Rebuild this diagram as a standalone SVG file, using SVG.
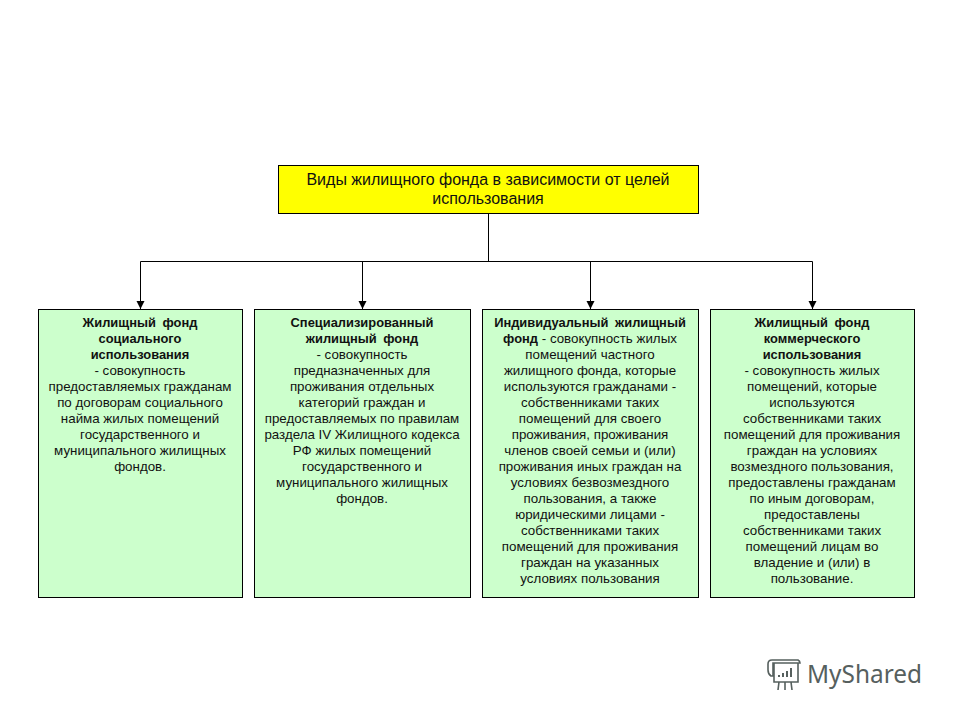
<svg xmlns="http://www.w3.org/2000/svg" width="960" height="720" viewBox="0 0 960 720">
<defs><marker id="a" markerUnits="userSpaceOnUse" markerWidth="8" markerHeight="9" refX="8" refY="4" orient="auto"><path d="M0 0L8 4L0 8Z" fill="#000"/></marker></defs>
<style>
.b{stroke:#000;stroke-width:1}
.g{fill:#ccffcc}
text{font-family:"Liberation Sans",Arial,sans-serif;font-size:13.33px;text-anchor:middle;fill:#111}
.h{font-weight:bold;font-size:12.9px;word-spacing:3px}
.t{font-size:16px}
.c{fill:none;stroke:#000;stroke-width:1}
.l{fill:none;stroke:#56605e;stroke-width:1.600}
</style>
<rect width="960" height="720" fill="#fff"/>
<g id="connectors">
<path class="c" d="M488.500 214V261.500M140.500 261.500H812.500"/>
<path class="c" d="M140.500 261.500V309" marker-end="url(#a)"/>
<path class="c" d="M362.500 261.500V309" marker-end="url(#a)"/>
<path class="c" d="M590.500 261.500V309" marker-end="url(#a)"/>
<path class="c" d="M812.500 261.500V309" marker-end="url(#a)"/>
</g>
<g id="title"><rect class="b" x="278.500" y="165.500" width="420" height="48" fill="#ffff00"/>
<text class="t" x="488" y="185">Виды жилищного фонда в зависимости от целей</text>
<text class="t" x="488" y="204">использования</text></g>
<g id="n1"><rect class="b g" x="38.500" y="309.500" width="204" height="288"/>
<text class="h" x="140" y="327">Жилищный фонд</text><text class="h" x="140" y="343">социального</text><text class="h" x="140" y="359">использования</text>
<text x="140" y="375">- совокупность</text><text x="140" y="391">предоставляемых гражданам</text><text x="140" y="407">по договорам социального</text><text x="140" y="423">найма жилых помещений</text><text x="140" y="439">государственного и</text><text x="140" y="455">муниципального жилищных</text><text x="140" y="471">фондов.</text></g>
<g id="n2"><rect class="b g" x="254.500" y="309.500" width="216" height="288"/>
<text class="h" x="362" y="327">Специализированный</text><text class="h" x="362" y="343">жилищный фонд</text>
<text x="362" y="359">- совокупность</text><text x="362" y="375">предназначенных для</text><text x="362" y="391">проживания отдельных</text><text x="362" y="407">категорий граждан и</text><text x="362" y="423">предоставляемых по правилам</text><text x="362" y="439">раздела IV Жилищного кодекса</text><text x="362" y="455">РФ жилых помещений</text><text x="362" y="471">государственного и</text><text x="362" y="487">муниципального жилищных</text><text x="362" y="503">фондов.</text></g>
<g id="n3"><rect class="b g" x="482.500" y="309.500" width="216" height="288"/>
<text class="h" x="590" y="327">Индивидуальный жилищный</text>
<text x="590" y="343"><tspan class="h">фонд</tspan> - совокупность жилых</text>
<text x="590" y="359">помещений частного</text><text x="590" y="375">жилищного фонда, которые</text><text x="590" y="391">используются гражданами -</text><text x="590" y="407">собственниками таких</text><text x="590" y="423">помещений для своего</text><text x="590" y="439">проживания, проживания</text><text x="590" y="455">членов своей семьи и (или)</text><text x="590" y="471">проживания иных граждан на</text><text x="590" y="487">условиях безвозмездного</text><text x="590" y="503">пользования, а также</text><text x="590" y="519">юридическими лицами -</text><text x="590" y="535">собственниками таких</text><text x="590" y="551">помещений для проживания</text><text x="590" y="567">граждан на указанных</text><text x="590" y="583">условиях пользования</text></g>
<g id="n4"><rect class="b g" x="710.500" y="309.500" width="204" height="288"/>
<text class="h" x="812" y="327">Жилищный фонд</text><text class="h" x="812" y="343">коммерческого</text><text class="h" x="812" y="359">использования</text>
<text x="812" y="375">- совокупность жилых</text><text x="812" y="391">помещений, которые</text><text x="812" y="407">используются</text><text x="812" y="423">собственниками таких</text><text x="812" y="439">помещений для проживания</text><text x="812" y="455">граждан на условиях</text><text x="812" y="471">возмездного пользования,</text><text x="812" y="487">предоставлены гражданам</text><text x="812" y="503">по иным договорам,</text><text x="812" y="519">предоставлены</text><text x="812" y="535">собственниками таких</text><text x="812" y="551">помещений лицам во</text><text x="812" y="567">владение и (или) в</text><text x="812" y="583">пользование.</text></g>
<g id="logo"><text x="807" y="683" style="font-family:'Noto Sans',sans-serif;font-size:26px;text-anchor:start;fill:#56605e" textLength="115" lengthAdjust="spacingAndGlyphs">MyShared</text>
<path class="l" d="M772 660H798Q800 661 800 663H773V676H771Q768 674 768 670V664Q768 660 772 660ZM774 663V682H798V663M779 682L778 690M785 682V690M791 682L792 690"/>
<path d="M778 675h2v2h-2zM782 673h2v4h-2zM786 671h2v6h-2zM790 668h2v9h-2z" fill="#56605e"/></g>
</svg>
